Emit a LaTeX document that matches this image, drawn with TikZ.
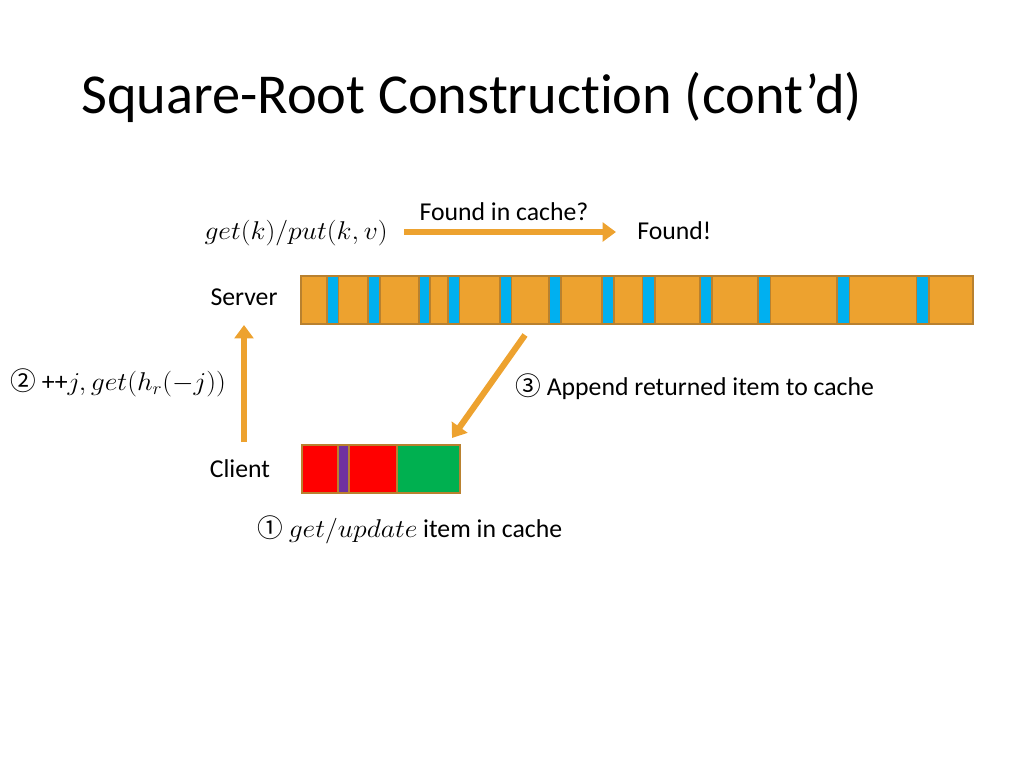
\documentclass[tikz,border=0pt]{standalone}
\usepackage{graphicx}
\usepackage{fontspec}
\setmainfont{Carlito}[Ligatures=NoCommon]
\newfontfamily\symfont{Noto Sans CJK JP}
\usetikzlibrary{arrows.meta}
\definecolor{barorange}{HTML}{EDA22F}
\definecolor{baredge}{HTML}{B9812F}
\definecolor{stripeblue}{HTML}{00B0F0}
\definecolor{cred}{HTML}{FF0000}
\definecolor{cpurple}{HTML}{7030A0}
\definecolor{cgreen}{HTML}{00B050}
\newcommand{\mth}[1]{\scalebox{1.0}[0.93]{$#1$}}
\tikzset{
  lbl/.style={font=\fontsize{19.3}{22}\selectfont, inner sep=0pt},
  bar/.style={fill=barorange, draw=baredge, line width=0.8pt, inner sep=0pt, minimum height=36pt},
  seg/.style={draw=baredge, line width=0.8pt},
  blockarrow/.style={draw=barorange, line width=4.6pt, -{Triangle[width=14pt,length=10pt]}},
}
\begin{document}
\begin{tikzpicture}[x=0.75pt,y=-0.75pt]
\useasboundingbox (0,0) rectangle (1024,768);
% title
\node[anchor=west, inner sep=0pt, font=\fontsize{42.3}{46}\selectfont] (title) at (81,97) {Square-Root Construction (cont’d)};

% server bar
\node[bar, minimum width=504pt] (server) at (637,300) {};
\foreach \a/\b in {327/338.5, 368/380, 419/430, 448/459.5, 500/511.5, 549/561, 602/614, 642.5/655, 700/712, 758/770.5, 837/849.5, 916.5/929}
  \filldraw[seg, fill=stripeblue] (\a,276) rectangle (\b,324);

% client cache bar
\node[bar, minimum width=118.5pt] (cache) at (381,469) {};
\filldraw[seg, fill=cred] (302,445) rectangle (338,493);
\filldraw[seg, fill=cpurple] (338,445) rectangle (349,493);
\filldraw[seg, fill=cred] (349,445) rectangle (397,493);
\filldraw[seg, fill=cgreen] (397,445) rectangle (460,493);

% labels
\node[lbl, anchor=east] (req) at (388,233) {\mth{get(k)/put(k,v)}};
\node[lbl] (found q) at (504,212) {Found in cache?};
\node[lbl, anchor=west] (found) at (637,231) {Found!};
\node[lbl] (slbl) at (244,297) {Server};
\node[lbl] (clbl) at (240,469) {Client};
\node[lbl, anchor=west] (step2) at (10,383) {{\symfont ②} ++\mth{j, get(h_r(-j))}};
\node[lbl, anchor=west] (step3) at (515,387) {{\symfont ③} Append returned item to cache};
\node[lbl, anchor=west] (step1) at (257,530) {{\symfont ①} \mth{get/update} item in cache};

% arrows
\coordinate (a1s) at (404,232);
\coordinate (a1e) at (616,232);
\coordinate (a2s) at (244,442);
\coordinate (a2e) at (244,325);
\coordinate (a3s) at (525,335);
\coordinate (a3e) at (452,438);
\draw[blockarrow] (a1s) -- (a1e);
\draw[blockarrow] (a2s) -- (a2e);
\draw[blockarrow] (a3s) -- (a3e);
\end{tikzpicture}
\end{document}
